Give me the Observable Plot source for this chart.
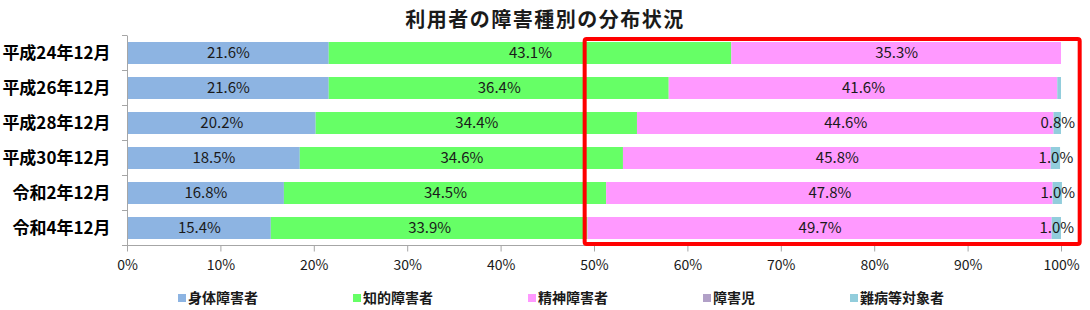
<!DOCTYPE html>
<html><head><meta charset="utf-8">
<script src="https://cdn.jsdelivr.net/npm/d3@7"></script>
<script src="https://cdn.jsdelivr.net/npm/@observablehq/plot@0.6"></script>
<style>
body{margin:0;background:#fff;font-family:"Noto Sans CJK JP","Noto Sans",sans-serif;}
#title{height:30px;box-sizing:border-box;padding-top:7px;line-height:24px;text-align:center;font-size:20px;font-weight:bold;color:#1a1a1a;letter-spacing:1.5px;}
#legend{display:flex;gap:95px;padding-left:178px;height:30px;box-sizing:border-box;padding-top:4px;align-items:center;font-size:14px;font-weight:bold;color:#1a1a1a;}
#legend .sw{display:inline-block;width:8px;height:8px;margin-right:2px;vertical-align:1px;}
</style></head><body>
<div id="title"></div><div id="chart"></div><div id="legend"></div>
<script>
const title = "利用者の障害種別の分布状況";
const categories = ["平成24年12月","平成26年12月","平成28年12月","平成30年12月","令和2年12月","令和4年12月"];
const seriesNames = ["身体障害者","知的障害者","精神障害者","障害児","難病等対象者"];
const seriesColors = ["#8DB4E2","#66FF66","#FF99FF","#B1A0C7","#92CDDC"];
const physical     = [21.6, 21.6, 20.2, 18.5, 16.8, 15.4];
const intellectual = [43.1, 36.4, 34.4, 34.6, 34.5, 33.9];
const mental       = [35.3, 41.6, 44.6, 45.8, 47.8, 49.7];
const children     = [0, 0, 0, 0, 0, 0];
const intractable  = [0, 0.4, 0.8, 1.0, 1.0, 1.0];
const xTicks = [0, 10, 20, 30, 40, 50, 60, 70, 80, 90, 100];
const highlightRange = [49, 102]; // red box, in % units

const seriesValues = [physical, intellectual, mental, children, intractable];
const data = [];
categories.forEach((c, i) => {
  seriesNames.forEach((s, j) => data.push({cat: c, series: s, value: seriesValues[j][i]}));
});

document.getElementById("title").textContent = title;

const W = 1090, H = 250, mL = 127, mR = 29, mT = 5.5, mB = 34.5;
const chart = Plot.plot({
  width: W, height: H,
  marginLeft: mL, marginRight: mR, marginTop: mT, marginBottom: mB,
  style: {fontFamily: '"Noto Sans CJK JP","Noto Sans",sans-serif', background: "#fff"},
  x: {domain: [0, 100], label: null},
  y: {domain: categories, paddingInner: 0.37, paddingOuter: 0.185, label: null},
  color: {domain: seriesNames, range: seriesColors},
  marks: [
    Plot.barX(data, Plot.stackX({x: "value", y: "cat", fill: "series", z: "series"})),
    Plot.text(data, Plot.stackX({
      x: "value", y: "cat", z: "series",
      text: d => d.value >= 0.8 ? d.value.toFixed(1) + "%" : "",
      fill: "#1a1a1a", fontSize: 15
    })),
    Plot.ruleX([0], {stroke: "#a6a6a6"}),
    Plot.axisY({label: null, tickSize: 0, tickPadding: 17, fontSize: 17, fontWeight: "bold", fill: "#000"}),
    Plot.axisX({label: null, ticks: xTicks, tickFormat: d => d + "%", tickSize: 6, tickPadding: 8, fontSize: 14, stroke: "#a6a6a6", fill: "#1a1a1a"})
  ]
});
document.getElementById("chart").appendChild(chart);

// axis details and highlight box using the plot's own scales
const xs = chart.scale("x"), ys = chart.scale("y");
const svg = d3.select(chart);
const x0 = xs.apply(0), x100 = xs.apply(100);
const [r0, r1] = ys.range;
svg.append("line").attr("x1", x0).attr("x2", x100).attr("y1", r1).attr("y2", r1).attr("stroke", "#a6a6a6");
for (let k = 0; k <= categories.length; k++) {
  const yy = r0 + k * ys.step;
  svg.append("line").attr("x1", x0 - 5).attr("x2", x0).attr("y1", yy).attr("y2", yy).attr("stroke", "#a6a6a6");
}
svg.append("rect")
  .attr("x", xs.apply(highlightRange[0])).attr("width", xs.apply(highlightRange[1]) - xs.apply(highlightRange[0]))
  .attr("y", r0 + 3.5).attr("height", (r1 - 1.5) - (r0 + 3.5))
  .attr("fill", "none").attr("stroke", "#ff0000").attr("stroke-width", 4).attr("rx", 2);

// legend
const legend = d3.select("#legend");
seriesNames.forEach((s, j) => {
  const it = legend.append("span");
  it.append("span").attr("class", "sw").style("background", seriesColors[j]);
  it.append("span").text(s);
});
</script>
</body></html>
